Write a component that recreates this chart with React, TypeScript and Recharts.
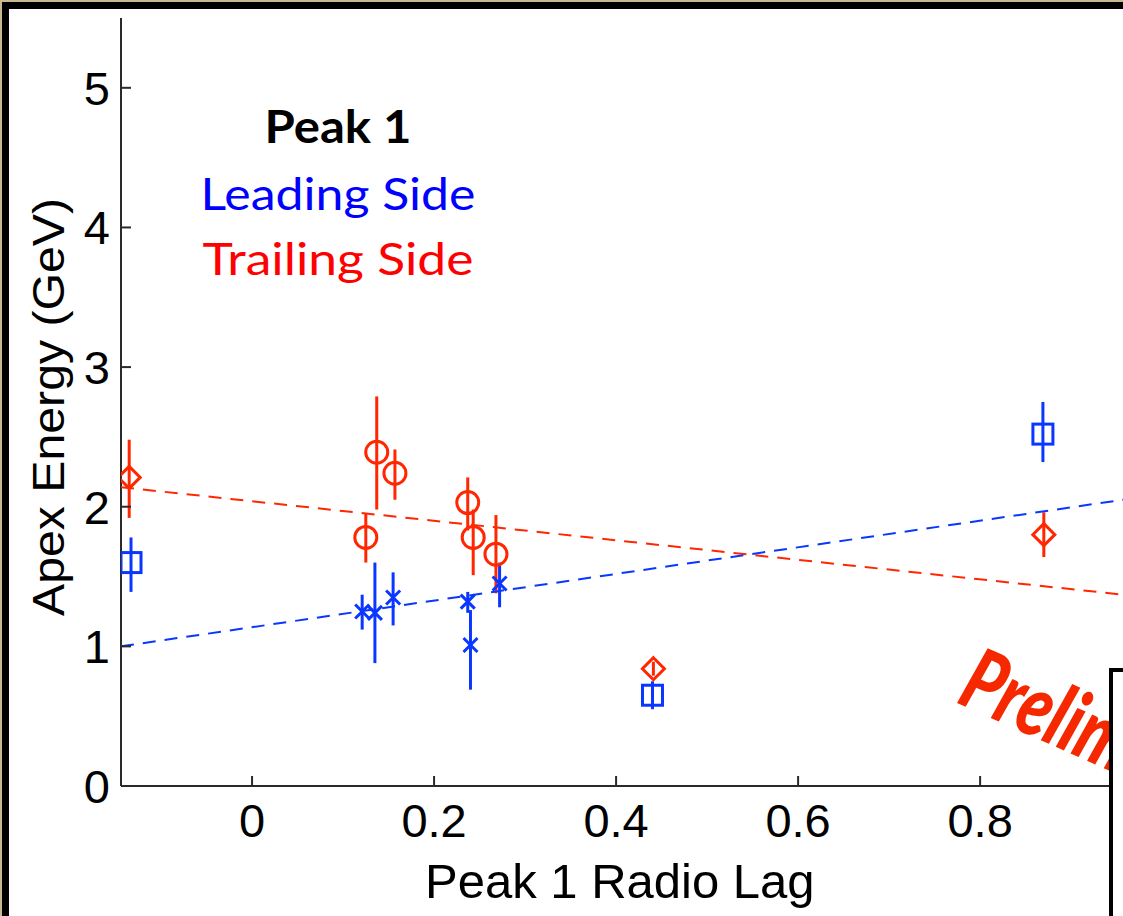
import React from 'react';
import { ScatterChart, Scatter, XAxis, YAxis, ErrorBar } from 'recharts';

// axis ticks
const xTicks = [0, 0.2, 0.4, 0.6, 0.8];
const yTicks = [0, 1, 2, 3, 4, 5];

// Leading side (blue)
const leadLag = [-0.133, 0.121, 0.135, 0.155, 0.237, 0.24, 0.272, 0.44, 0.869];
const leadEnergy = [1.6, 1.25, 1.24, 1.35, 1.32, 1.01, 1.45, 0.65, 2.52];
const leadErrLo = [0.21, 0.13, 0.36, 0.2, 0.08, 0.32, 0.17, 0.1, 0.2];
const leadErrHi = [0.18, 0.12, 0.36, 0.18, 0.07, 0.25, 0.15, 0.1, 0.23];
const leadMarker = ['square', 'x', 'x', 'x', 'x', 'x', 'x', 'square', 'square'];

// Trailing side (red)
const trailLag = [-0.135, 0.125, 0.137, 0.157, 0.237, 0.243, 0.268, 0.441, 0.87];
const trailEnergy = [2.21, 1.78, 2.39, 2.24, 2.03, 1.78, 1.66, 0.84, 1.8];
const trailErrLo = [0.29, 0.18, 0.41, 0.19, 0.2, 0.27, 0.28, 0.05, 0.16];
const trailErrHi = [0.27, 0.17, 0.4, 0.17, 0.18, 0.2, 0.28, 0.05, 0.16];
const trailMarker = ['diamond', 'circle', 'circle', 'circle', 'circle', 'circle', 'circle', 'diamond', 'diamond'];

// linear fits
const fitLag = [-0.144, 0.957];
const leadFit = [1.0, 2.05];
const trailFit = [2.14, 1.37];

const BLUE = '#0a37ff';
const RED = '#ff2600';
const AXIS = '#2a2a2a';
const SANS = '"Liberation Sans", Arial, sans-serif';

const leadData = leadLag.map((x, i) => ({
  x,
  y: leadEnergy[i],
  err: [leadErrLo[i], leadErrHi[i]],
  marker: leadMarker[i],
}));
const trailData = trailLag.map((x, i) => ({
  x,
  y: trailEnergy[i],
  err: [trailErrLo[i], trailErrHi[i]],
  marker: trailMarker[i],
}));
const leadFitData = fitLag.map((x, i) => ({ x, y: leadFit[i] }));
const trailFitData = fitLag.map((x, i) => ({ x, y: trailFit[i] }));

const Marker = (color: string) => (props: any) => {
  const { cx, cy, payload } = props;
  if (cx == null || cy == null) return <g />;
  const common = { stroke: color, strokeWidth: 3, fill: 'none' };
  switch (payload.marker) {
    case 'square':
      return <rect x={cx - 10} y={cy - 10} width={20} height={20} {...common} />;
    case 'circle':
      return <circle cx={cx} cy={cy} r={11} {...common} />;
    case 'diamond':
      return (
        <polygon
          points={`${cx},${cy - 11} ${cx + 11},${cy} ${cx},${cy + 11} ${cx - 11},${cy}`}
          {...common}
        />
      );
    default:
      return (
        <g {...common}>
          <line x1={cx - 7} y1={cy - 7} x2={cx + 7} y2={cy + 7} />
          <line x1={cx - 7} y1={cy + 7} x2={cx + 7} y2={cy - 7} />
        </g>
      );
  }
};

const NoDot = () => <g />;

const YTick = ({ x, y, payload }: any) => (
  <g>
    {payload.value !== 0 && (
      <line x1={x} x2={x + 10} y1={y} y2={y} stroke={AXIS} strokeWidth={2} />
    )}
    <text x={x - 11} y={y + 17} textAnchor="end" fontSize={47} fontFamily={SANS} fill="#000">
      {payload.value}
    </text>
  </g>
);

const XTick = ({ x, y, payload }: any) => (
  <g>
    <line x1={x} x2={x} y1={y} y2={y - 10} stroke={AXIS} strokeWidth={2} />
    <text x={x} y={y + 51} textAnchor="middle" fontSize={47} fontFamily={SANS} fill="#000">
      {payload.value}
    </text>
  </g>
);

export default function App() {
  return (
    <div
      style={{
        position: 'absolute',
        left: 0,
        top: 0,
        width: 1123,
        height: 916,
        overflow: 'hidden',
        background: '#fff',
      }}
    >
      {/* slide frame */}
      <div style={{ position: 'absolute', left: 0, top: 0, width: 1123, height: 2, background: '#c8b88e' }} />
      <div style={{ position: 'absolute', left: 0, top: 2, width: 1123, height: 7, background: '#000' }} />
      <div style={{ position: 'absolute', left: 0, top: 0, width: 2, height: 916, background: '#c8b88e' }} />
      <div style={{ position: 'absolute', left: 2, top: 2, width: 7, height: 914, background: '#000' }} />

      <div style={{ position: 'absolute', left: 0, top: 0 }}>
        <ScatterChart width={1123} height={916} margin={{ top: 18, right: 0, bottom: 40, left: 0 }}>
          <XAxis
            type="number"
            dataKey="x"
            domain={[-0.144, 0.957]}
            ticks={xTicks}
            allowDataOverflow
            height={90}
            tickSize={0}
            tickMargin={0}
            tick={<XTick />}
            axisLine={{ stroke: AXIS, strokeWidth: 2 }}
          />
          <YAxis
            type="number"
            dataKey="y"
            domain={[0, 5.5]}
            ticks={yTicks}
            allowDataOverflow
            width={121}
            tickSize={0}
            tickMargin={0}
            tick={<YTick />}
            axisLine={{ stroke: AXIS, strokeWidth: 2 }}
          />
          <Scatter
            data={trailFitData}
            line={{ stroke: RED, strokeWidth: 2, strokeDasharray: '13 9' }}
            shape={NoDot}
            isAnimationActive={false}
          />
          <Scatter
            data={leadFitData}
            line={{ stroke: BLUE, strokeWidth: 2, strokeDasharray: '13 9' }}
            shape={NoDot}
            isAnimationActive={false}
          />
          <Scatter data={trailData} shape={Marker(RED)} isAnimationActive={false}>
            <ErrorBar dataKey="err" direction="y" width={0} stroke={RED} strokeWidth={3} />
          </Scatter>
          <Scatter data={leadData} shape={Marker(BLUE)} isAnimationActive={false}>
            <ErrorBar dataKey="err" direction="y" width={0} stroke={BLUE} strokeWidth={3} />
          </Scatter>
        </ScatterChart>
      </div>

      {/* annotations */}
      <svg
        width={1123}
        height={916}
        style={{ position: 'absolute', left: 0, top: 0, pointerEvents: 'none' }}
      >
        <text
          transform="translate(64,407) rotate(-90)"
          textAnchor="middle"
          fontSize={45}
          fontFamily={SANS}
          textLength={418}
          lengthAdjust="spacingAndGlyphs"
          fill="#000"
        >
          Apex Energy (GeV)
        </text>
        <text x={425} y={898} fontSize={49} fontFamily={SANS} fill="#000">
          Peak 1 Radio Lag
        </text>
        <text
          x={338}
          y={143}
          textAnchor="middle"
          fontSize={45}
          fontWeight={700}
          fontFamily="Lato, sans-serif"
          textLength={147}
          lengthAdjust="spacingAndGlyphs"
          fill="#000"
        >
          Peak 1
        </text>
        <text
          x={338}
          y={210}
          textAnchor="middle"
          fontSize={44}
          fontFamily="Lato, sans-serif"
          textLength={275}
          lengthAdjust="spacingAndGlyphs"
          fill="#0000ff"
        >
          Leading Side
        </text>
        <text
          x={338}
          y={275}
          textAnchor="middle"
          fontSize={44}
          fontFamily="Lato, sans-serif"
          textLength={271}
          lengthAdjust="spacingAndGlyphs"
          fill="#ff0000"
        >
          Trailing Side
        </text>
        <text
          transform="translate(955,702) rotate(24) scale(0.76,1)"
          fontSize={86}
          fontWeight={900}
          fontStyle="italic"
          fontFamily="Lato, sans-serif"
          fill="#f52800"
        >
          Preliminary
        </text>
      </svg>

      {/* overlapping box at the right */}
      <div
        style={{
          position: 'absolute',
          left: 1109,
          top: 668,
          width: 40,
          height: 300,
          background: '#fff',
          borderLeft: '4px solid #000',
          borderTop: '4px solid #000',
        }}
      />
    </div>
  );
}
